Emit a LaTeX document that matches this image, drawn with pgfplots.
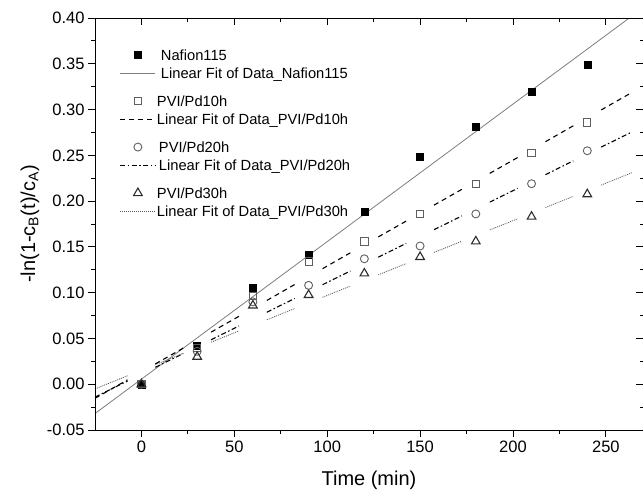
\documentclass[border=0pt]{standalone}
\usepackage{pgfplots}
\pgfplotsset{compat=1.18}
\usepackage{fontspec}
\setmainfont{Liberation Sans}
\definecolor{fitgray}{RGB}{125,125,125}
\definecolor{markgray}{RGB}{95,95,95}
\definecolor{tridark}{RGB}{45,45,45}
\definecolor{dotgray}{RGB}{90,90,90}
\newcommand{\lstrut}{\rule[-2.95pt]{0pt}{16.5pt}}

\begin{document}
\begin{tikzpicture}
\pgfplotsset{
  frame/.style={
    scale only axis, width=548pt, height=412pt,
    xmin=-25, xmax=270, ymin=-0.05, ymax=0.40,
    xtick={0,50,100,150,200,250},
    ytick={-0.05,0,0.05,0.10,0.15,0.20,0.25,0.30,0.35,0.40},
    minor x tick num=1, minor y tick num=1,
    major tick length=7pt, minor tick length=3.5pt,
    tick style={black, line width=0.8pt},
    axis line style={line width=0.9pt},
  }
}
\begin{axis}[
  frame,
  tick align=outside, xtick pos=left, ytick pos=left,
  tick label style={font=\fontsize{16.5}{18}\selectfont},
  /pgf/number format/assume math mode=true,
  yticklabel style={/pgf/number format/.cd, fixed, fixed zerofill, precision=2},
  scaled y ticks=false,
  xlabel={Time (min)},
  ylabel={-ln(1-c\textsubscript{B}(t)/c\textsubscript{A})},
  label style={font=\fontsize{20}{22}\selectfont},
  xlabel style={at={(axis description cs:0.5,-0.1214)}, anchor=center},
  ylabel style={at={(axis description cs:-0.1186,0.5)}, anchor=center},
  unbounded coords=jump,
  legend style={draw=none, fill=none, at={(axis description cs:0.045,0.933)}, anchor=north west,
    font=\fontsize{14.7}{17}\selectfont, row sep=0pt, inner sep=0pt,
    nodes={inner sep=1pt, text depth=}},
  legend cell align=left,
  legend image code/.code={
    \path[draw=none, fill=none] (0pt,0pt) (35pt,0pt);
    \draw[mark repeat=2,mark phase=2,#1] plot coordinates {(0pt,0pt) (17.5pt,0pt) (35pt,0pt)};},
]

% Nafion115
\addplot[only marks, mark=square*, mark size=3.5pt, black] coordinates {
  (0,0) (30,0.042) (60,0.105) (90,0.141) (120,0.188) (150,0.249) (180,0.281) (210,0.319) (240,0.349)
};
\addlegendentry{\lstrut\hspace{4pt}Nafion115}
\addplot[fitgray, line width=0.8pt] coordinates {(-25,-0.0320) (266,0.4051)};
\addlegendentry{\lstrut\hspace{4pt}Linear Fit of Data\_Nafion115}
\addlegendimage{empty legend}
\addlegendentry{\rule{0pt}{7pt}}

% PVI/Pd10h
\addplot[only marks, mark=square, mark size=3.6pt, markgray, mark options={line width=0.9pt}] coordinates {
  (0,0) (30,0.040) (60,0.096) (90,0.134) (120,0.156) (150,0.186) (180,0.219) (210,0.253) (240,0.286)
};
\addlegendentry{\lstrut PVI/Pd10h}
\addplot[black, line width=1.1pt, dash pattern=on 5pt off 4pt] coordinates {
  (-25,-0.0154) (-7.5,0.0048) (0,nan)
  (7.5,0.0222) (22.5,0.0395) (30,nan)
  (37.5,0.0569) (52.5,0.0742) (60,nan)
  (67.5,0.0915) (82.5,0.1089) (90,nan)
  (97.5,0.1262) (112.5,0.1436) (120,nan)
  (127.5,0.1609) (142.5,0.1782) (150,nan)
  (157.5,0.1956) (172.5,0.2129) (180,nan)
  (187.5,0.2303) (202.5,0.2476) (210,nan)
  (217.5,0.2649) (232.5,0.2823) (240,nan)
  (247.5,0.2996) (263,0.3175)
};
\addlegendentry{\lstrut Linear Fit of Data\_PVI/Pd10h}
\addlegendimage{empty legend}
\addlegendentry{\rule{0pt}{7pt}}

% PVI/Pd20h
\addplot[only marks, mark=o, mark size=4pt, markgray, mark options={line width=0.9pt}] coordinates {
  (0,0) (30,0.036) (60,0.090) (90,0.108) (120,0.137) (150,0.151) (180,0.186) (210,0.219) (240,0.255)
};
\addlegendentry{\lstrut\hspace{2pt}PVI/Pd20h}
\addplot[black, line width=1.1pt, dash pattern=on 5pt off 2.5pt on 1.5pt off 2.5pt] coordinates {
  (-25,-0.0141) (-7.5,0.0035) (0,nan)
  (7.5,0.0185) (22.5,0.0335) (30,nan)
  (37.5,0.0486) (52.5,0.0636) (60,nan)
  (67.5,0.0786) (82.5,0.0937) (90,nan)
  (97.5,0.1087) (112.5,0.1237) (120,nan)
  (127.5,0.1388) (142.5,0.1538) (150,nan)
  (157.5,0.1688) (172.5,0.1838) (180,nan)
  (187.5,0.1989) (202.5,0.2139) (210,nan)
  (217.5,0.2289) (232.5,0.2440) (240,nan)
  (247.5,0.2590) (264,0.2755)
};
\addlegendentry{\lstrut\hspace{2pt}Linear Fit of Data\_PVI/Pd20h}
\addlegendimage{empty legend}
\addlegendentry{\rule{0pt}{7pt}}

% PVI/Pd30h
\addplot[only marks, mark=triangle, mark size=5pt, tridark, mark options={line width=1.1pt}] coordinates {
  (0,0) (30,0.030) (60,0.086) (90,0.0975) (120,0.121) (150,0.139) (180,0.156) (210,0.183) (240,0.2075)
};
\addlegendentry{\lstrut PVI/Pd30h}
\addplot[dotgray, line width=0.8pt, dash pattern=on 1pt off 1pt] coordinates {
  (-25,-0.0051) (-7.5,0.0092) (0,nan)
  (7.5,0.0214) (22.5,0.0337) (30,nan)
  (37.5,0.0459) (52.5,0.0582) (60,nan)
  (67.5,0.0704) (82.5,0.0827) (90,nan)
  (97.5,0.0950) (112.5,0.1072) (120,nan)
  (127.5,0.1195) (142.5,0.1317) (150,nan)
  (157.5,0.1440) (172.5,0.1562) (180,nan)
  (187.5,0.1685) (202.5,0.1807) (210,nan)
  (217.5,0.1930) (232.5,0.2052) (240,nan)
  (247.5,0.2175) (264,0.2310)
};
\addlegendentry{\lstrut Linear Fit of Data\_PVI/Pd30h}
\end{axis}

% top and right axes with inward ticks
\begin{axis}[
  frame,
  tick align=inside, xtick pos=right, ytick pos=right,
  xticklabels={}, yticklabels={},
]
\end{axis}

\pgfresetboundingbox
\path (-95pt,-61pt) rectangle (548pt,430pt);
\end{tikzpicture}
\end{document}
